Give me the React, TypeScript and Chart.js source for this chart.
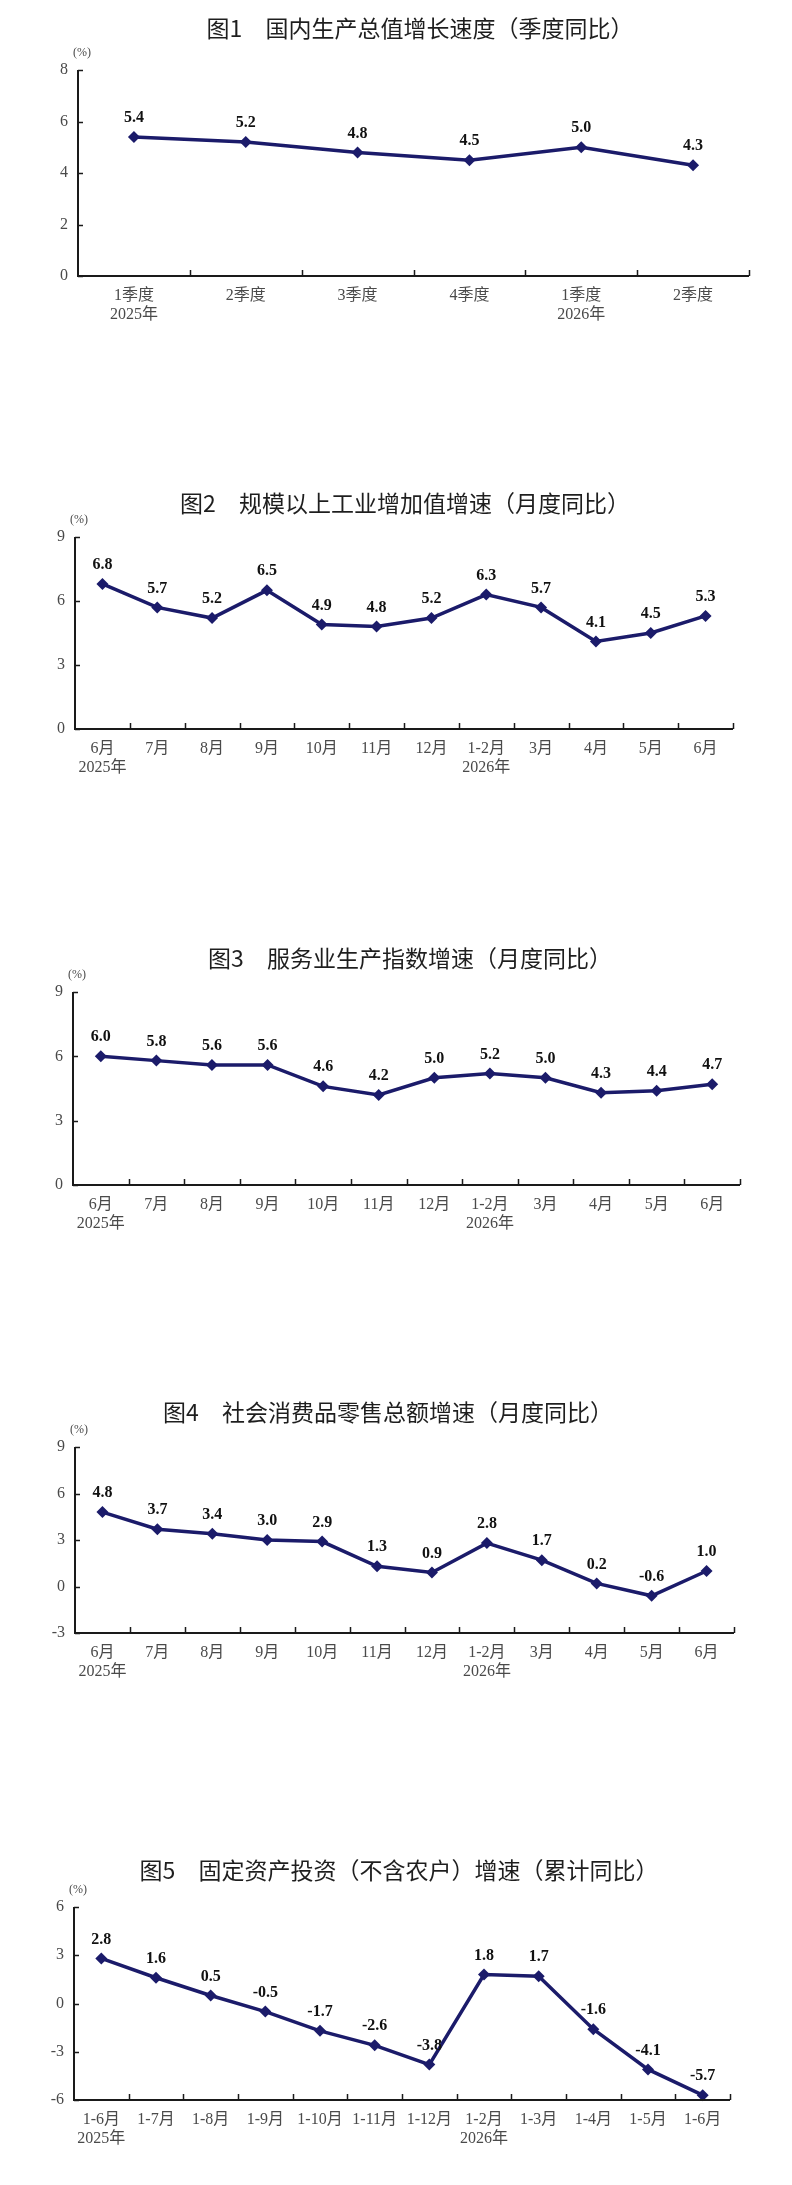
import React, { useEffect, useRef } from 'react';
import { Chart, registerables } from 'chart.js';

Chart.register(...registerables);

// ---------- data ----------
const gdpLabels: (string | string[])[] = [['1季度', '2025年'], '2季度', '3季度', '4季度', ['1季度', '2026年'], '2季度'];
const gdpValues = [5.4, 5.2, 4.8, 4.5, 5.0, 4.3];
const gdpTicks = [0, 2, 4, 6, 8];

const monthLabels: (string | string[])[] = [['6月', '2025年'], '7月', '8月', '9月', '10月', '11月', '12月', ['1-2月', '2026年'], '3月', '4月', '5月', '6月'];

const industryValues = [6.8, 5.7, 5.2, 6.5, 4.9, 4.8, 5.2, 6.3, 5.7, 4.1, 4.5, 5.3];
const industryTicks = [0, 3, 6, 9];

const servicesValues = [6.0, 5.8, 5.6, 5.6, 4.6, 4.2, 5.0, 5.2, 5.0, 4.3, 4.4, 4.7];
const servicesTicks = [0, 3, 6, 9];

const retailValues = [4.8, 3.7, 3.4, 3.0, 2.9, 1.3, 0.9, 2.8, 1.7, 0.2, -0.6, 1.0];
const retailTicks = [-3, 0, 3, 6, 9];

const cumLabels: (string | string[])[] = [['1-6月', '2025年'], '1-7月', '1-8月', '1-9月', '1-10月', '1-11月', '1-12月', ['1-2月', '2026年'], '1-3月', '1-4月', '1-5月', '1-6月'];
const investValues = [2.8, 1.6, 0.5, -0.5, -1.7, -2.6, -3.8, 1.8, 1.7, -1.6, -4.1, -5.7];
const investTicks = [-6, -3, 0, 3, 6];

const titles = [
  '图1　国内生产总值增长速度（季度同比）',
  '图2　规模以上工业增加值增速（月度同比）',
  '图3　服务业生产指数增速（月度同比）',
  '图4　社会消费品零售总额增速（月度同比）',
  '图5　固定资产投资（不含农户）增速（累计同比）',
];
const unitLabel = '(%)';

// ---------- layout (page pixels) ----------
const PAGE_W = 792;
const PAGE_H = 2185;
const layouts = [
  { left: 78, right: 749, top: 70, bottom: 276, titleX: 420, titleY: 28 },
  { left: 75, right: 733, top: 537, bottom: 729, titleX: 405, titleY: 503 },
  { left: 73, right: 740, top: 992, bottom: 1185, titleX: 410, titleY: 958 },
  { left: 75, right: 734, top: 1447, bottom: 1633, titleX: 388, titleY: 1412 },
  { left: 74, right: 730, top: 1907, bottom: 2100, titleX: 399, titleY: 1870 },
];

const LINE_COLOR = '#1b1b6a';
const AXIS_COLOR = '#1a1a1a';
const TICK_COLOR = '#4a4a4a';
const SERIF = "'Liberation Serif', 'Noto Sans CJK SC', serif";
const SANS = "'Noto Sans CJK SC', 'Noto Sans', sans-serif";

type Layout = typeof layouts[number];

interface BlockProps {
  labels: (string | string[])[];
  values: number[];
  ticks: number[];
  title: string;
  layout: Layout;
}

function ChartBlock({ labels, values, ticks, title, layout }: BlockProps) {
  const ref = useRef<HTMLCanvasElement | null>(null);
  const canvasTop = layout.titleY - 26;
  const canvasH = layout.bottom + 56 - canvasTop;
  const xAxisH = canvasH - (layout.bottom - canvasTop);

  useEffect(() => {
    if (!ref.current) return;

    const decor = {
      id: 'decor',
      afterDraw(chart: any) {
        const ctx = chart.ctx as CanvasRenderingContext2D;
        const area = chart.chartArea;
        const xs = chart.scales.x;
        const ys = chart.scales.y;
        ctx.save();
        // title
        ctx.fillStyle = '#1e1e1e';
        ctx.font = `23px ${SANS}`;
        ctx.textAlign = 'center';
        ctx.textBaseline = 'middle';
        ctx.fillText(title, layout.titleX, layout.titleY - canvasTop);
        // unit
        ctx.fillStyle = TICK_COLOR;
        ctx.font = `12px ${SERIF}`;
        ctx.fillText(unitLabel, area.left + 4, area.top - 17);
        // axes
        ctx.strokeStyle = AXIS_COLOR;
        ctx.lineWidth = 2;
        ctx.beginPath();
        ctx.moveTo(area.left, area.top);
        ctx.lineTo(area.left, area.bottom);
        ctx.lineTo(area.right, area.bottom);
        ctx.stroke();
        // inward ticks on y
        ctx.lineWidth = 1.5;
        ctx.beginPath();
        ys.ticks.forEach((t: any) => {
          const y = Math.round(ys.getPixelForValue(t.value)) + 0.5;
          ctx.moveTo(area.left, y);
          ctx.lineTo(area.left + 5, y);
        });
        // inward ticks on x at category boundaries
        const n = labels.length;
        for (let i = 1; i <= n; i++) {
          const x = i < n
            ? (xs.getPixelForValue(i - 1) + xs.getPixelForValue(i)) / 2
            : area.right;
          const xx = Math.round(x) + 0.5;
          ctx.moveTo(xx, area.bottom);
          ctx.lineTo(xx, area.bottom - 6);
        }
        ctx.stroke();
        ctx.restore();
      },
      afterDatasetsDraw(chart: any) {
        const ctx = chart.ctx as CanvasRenderingContext2D;
        const meta = chart.getDatasetMeta(0);
        ctx.save();
        ctx.fillStyle = '#111';
        ctx.font = `bold 16px ${SERIF}`;
        ctx.textAlign = 'center';
        ctx.textBaseline = 'middle';
        meta.data.forEach((pt: any, i: number) => {
          ctx.fillText(values[i].toFixed(1), pt.x, pt.y - 19);
        });
        ctx.restore();
      },
    };

    const chart = new Chart(ref.current, {
      type: 'line',
      data: {
        labels,
        datasets: [
          {
            data: values,
            borderColor: LINE_COLOR,
            backgroundColor: LINE_COLOR,
            borderWidth: 3.5,
            pointStyle: 'rectRot',
            pointRadius: 6,
            pointHoverRadius: 6,
            pointBackgroundColor: LINE_COLOR,
            pointBorderColor: LINE_COLOR,
            pointBorderWidth: 0,
            tension: 0,
            clip: false as any,
          },
        ],
      },
      options: {
        animation: false,
        responsive: false,
        devicePixelRatio: 1,
        events: [],
        layout: {
          padding: {
            top: layout.top - canvasTop,
            left: 0,
            right: PAGE_W - layout.right,
            bottom: 0,
          },
        },
        plugins: {
          legend: { display: false },
          title: { display: false },
          tooltip: { enabled: false },
        },
        scales: {
          x: {
            type: 'category',
            offset: true,
            grid: { display: false, drawTicks: false },
            border: { display: false },
            ticks: {
              autoSkip: false,
              maxRotation: 0,
              minRotation: 0,
              padding: 10,
              color: TICK_COLOR,
              font: { size: 16, family: SERIF, lineHeight: 1.2 },
            },
            afterFit: (scale: any) => {
              scale.height = xAxisH;
            },
          },
          y: {
            min: ticks[0],
            max: ticks[ticks.length - 1],
            grid: { display: false, drawTicks: false },
            border: { display: false },
            ticks: {
              stepSize: ticks[1] - ticks[0],
              padding: 10,
              color: TICK_COLOR,
              font: { size: 16, family: SERIF },
            },
            afterFit: (scale: any) => {
              scale.width = layout.left;
            },
          },
        },
      },
      plugins: [decor],
    });
    return () => chart.destroy();
  }, []);

  return (
    <canvas
      ref={ref}
      width={PAGE_W}
      height={canvasH}
      style={{ position: 'absolute', left: 0, top: canvasTop, width: PAGE_W, height: canvasH }}
    />
  );
}

export default function App() {
  const blocks = [
    { labels: gdpLabels, values: gdpValues, ticks: gdpTicks },
    { labels: monthLabels, values: industryValues, ticks: industryTicks },
    { labels: monthLabels, values: servicesValues, ticks: servicesTicks },
    { labels: monthLabels, values: retailValues, ticks: retailTicks },
    { labels: cumLabels, values: investValues, ticks: investTicks },
  ];
  return (
    <div style={{ position: 'relative', width: PAGE_W, height: PAGE_H, background: '#fff', overflow: 'hidden' }}>
      <style>{'html,body{margin:0;padding:0;background:#fff;}'}</style>
      {blocks.map((b, i) => (
        <ChartBlock key={i} labels={b.labels} values={b.values} ticks={b.ticks} title={titles[i]} layout={layouts[i]} />
      ))}
    </div>
  );
}
